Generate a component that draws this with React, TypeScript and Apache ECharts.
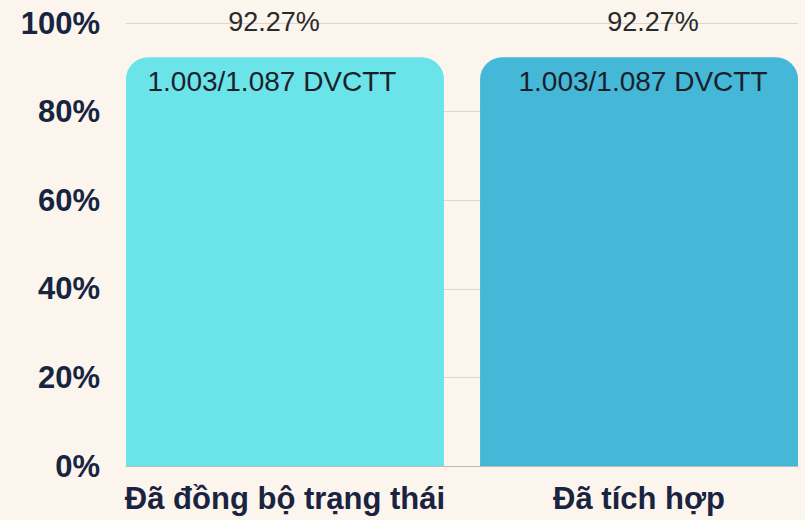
import React, { useEffect, useRef } from "react";
import * as echarts from "echarts";

const categories = ["Đã đồng bộ trạng thái", "Đã tích hợp"];
const percentages = [92.27, 92.27];
const counts = ["1.003/1.087", "1.003/1.087"];
const unitLabel = "DVCTT";
const barColors = ["#6ae4e8", "#44b8d6"];
const innerOffsets = [-13, 4];
const topOffsets = [-11, 14];

export default function App() {
  const ref = useRef<HTMLDivElement>(null);
  useEffect(() => {
    if (!ref.current) return;
    const chart = echarts.init(ref.current, null, { renderer: "svg" });
    const font = "'Liberation Sans', Arial, sans-serif";
    const series: any[] = [];
    categories.forEach((_, i) => {
      series.push({
        type: "bar",
        stack: "s" + i,
        barWidth: 318,
        barGap: "-94.3%",
        data: categories.map((__, j) => (j === i ? percentages[i] : "-")),
        itemStyle: { color: barColors[i], borderRadius: [22, 22, 0, 0] },
        label: {
          show: true,
          position: "insideTop",
          distance: 10,
          offset: [innerOffsets[i], 0],
          formatter: `${counts[i]} ${unitLabel}`,
          fontSize: 28,
          fontFamily: font,
          color: "#1b1f2b",
        },
      });
      series.push({
        type: "bar",
        stack: "s" + i,
        barWidth: 318,
        barGap: "-94.3%",
        data: categories.map((__, j) => (j === i ? 0 : "-")),
        itemStyle: { color: "transparent" },
        label: {
          show: true,
          position: "top",
          distance: 22,
          offset: [topOffsets[i], 0],
          formatter: `${percentages[i].toFixed(2)}%`,
          fontSize: 27,
          lineHeight: 26,
          fontFamily: font,
          color: "#2a2a2a",
        },
      });
    });
    const xRich = {
      fontSize: 31,
      fontWeight: "bold" as const,
      fontFamily: font,
      color: "#1a2440",
      lineHeight: 34,
    };
    chart.setOption({
      animation: false,
      backgroundColor: "#fcf5ee",
      grid: { left: 126, right: 7, top: 23, bottom: 54 },
      xAxis: {
        type: "category",
        data: categories,
        axisLine: { lineStyle: { color: "#bdbab6", width: 1 } },
        axisTick: { show: false },
        axisLabel: {
          margin: 15,
          formatter: (v: string, idx: number) => (idx === 0 ? `{l|${v}}` : `{r|${v}}`),
          rich: {
            l: { ...xRich, padding: [0, 18, 0, 0] },
            r: { ...xRich, padding: [0, 0, 0, 18] },
          },
        },
      },
      yAxis: {
        type: "value",
        min: 0,
        max: 100,
        interval: 20,
        axisLine: { show: false },
        axisTick: { show: false },
        splitLine: { lineStyle: { color: "#ddd6cf", width: 1 } },
        axisLabel: {
          formatter: "{value}%",
          margin: 26,
          fontSize: 31,
          fontWeight: "bold",
          fontFamily: font,
          color: "#172540",
        },
      },
      series,
    });
    return () => chart.dispose();
  }, []);
  return (
    <div
      ref={ref}
      style={{ position: "fixed", left: 0, top: 0, width: 805, height: 520 }}
    />
  );
}
